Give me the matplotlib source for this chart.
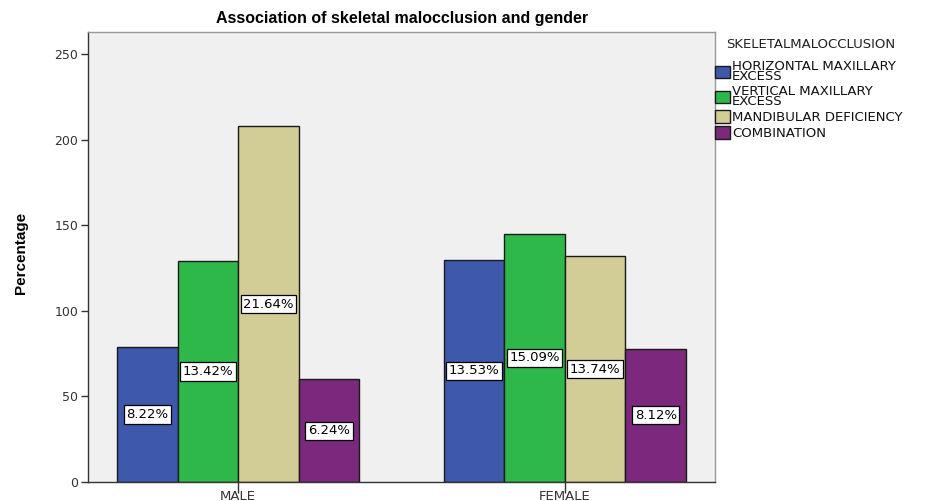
import matplotlib
matplotlib.use("Agg")
import matplotlib.pyplot as plt
from matplotlib.patches import Patch
import numpy as np

plt.rcParams['font.family'] = 'Liberation Sans'
fonte_larga = 'DejaVu Sans'  # texto pequeno da referência é mais largo

# data
generos = ["MALE", "FEMALE"]
categorias = ["HORIZONTAL MAXILLARY\nEXCESS", "VERTICAL MAXILLARY\nEXCESS",
              "MANDIBULAR DEFICIENCY", "COMBINATION"]
horizontal = [79, 130]
vertical = [129, 145]
mandibular = [208, 132]
combinacao = [60, 78]
rotulos_horizontal = ["8.22%", "13.53%"]
rotulos_vertical = ["13.42%", "15.09%"]
rotulos_mandibular = ["21.64%", "13.74%"]
rotulos_combinacao = ["6.24%", "8.12%"]

cores = ["#3e58ac", "#2eb84a", "#d2cd96", "#7b287d"]

series = [horizontal, vertical, mandibular, combinacao]
rotulos = [rotulos_horizontal, rotulos_vertical, rotulos_mandibular, rotulos_combinacao]

fig = plt.figure(figsize=(9.35, 5.01), dpi=100)
ax = fig.add_axes([0.0941, 0.038, 0.6706, 0.898])
ax.set_facecolor("#f0f0f0")

x = np.arange(len(generos))
largura = 0.1856
for i, (valores, cor) in enumerate(zip(series, cores)):
    pos = x + (i - 1.5) * largura
    ax.bar(pos, valores, width=largura, color=cor, edgecolor="#1a1a1a",
           linewidth=1.0, zorder=2)
    for px, v, r in zip(pos, valores, rotulos[i]):
        ax.text(px, v / 2, r, ha="center", va="center", fontsize=9.5,
                family=fonte_larga, color="black", zorder=4,
                bbox=dict(boxstyle="square,pad=0.2", facecolor="white",
                          edgecolor="black", linewidth=0.9))

ax.set_xlim(-0.46, 1.46)
ax.set_ylim(0, 263)
ax.set_yticks([0, 50, 100, 150, 200, 250])
ax.set_xticks(x)
ax.set_xticklabels(generos)
ax.tick_params(axis="y", direction="out", length=5, width=1, colors="#333333",
               labelsize=9, pad=2)
ax.tick_params(axis="x", direction="out", length=8, width=1, colors="#333333",
               labelsize=9.5, pad=-2.5)
for t in ax.get_xticklabels() + ax.get_yticklabels():
    t.set_family(fonte_larga)
for lado in ["left", "bottom"]:
    ax.spines[lado].set_color("#333333")
    ax.spines[lado].set_linewidth(1.0)
for lado in ["top", "right"]:
    ax.spines[lado].set_color("#999999")
    ax.spines[lado].set_linewidth(1.0)

ax.set_ylabel("Percentage", fontsize=11, fontweight="bold")
ax.yaxis.set_label_coords(-0.096, 0.51)
fig.text(0.43, 0.963, "Association of skeletal malocclusion and gender",
         ha="center", va="center", fontsize=11.5, fontweight="bold")

# legenda
fig.text(0.777, 0.912, "SKELETALMALOCCLUSION", ha="left", va="center",
         fontsize=9.5, family=fonte_larga, color="#222222")
handles = [Patch(facecolor=c, edgecolor="#1a1a1a", linewidth=1.0) for c in cores]
leg = fig.legend(handles, categorias, loc="upper left",
                 bbox_to_anchor=(0.765, 0.88), frameon=False,
                 prop={"family": fonte_larga, "size": 9.5},
                 handlelength=1.1, handleheight=1.1,
                 handletextpad=0.15, labelspacing=0.15, borderpad=0.0,
                 borderaxespad=0.0)
for t in leg.get_texts():
    t.set_linespacing(0.7)
    t.set_color("#111111")

fig.savefig("out.png", dpi=100)
